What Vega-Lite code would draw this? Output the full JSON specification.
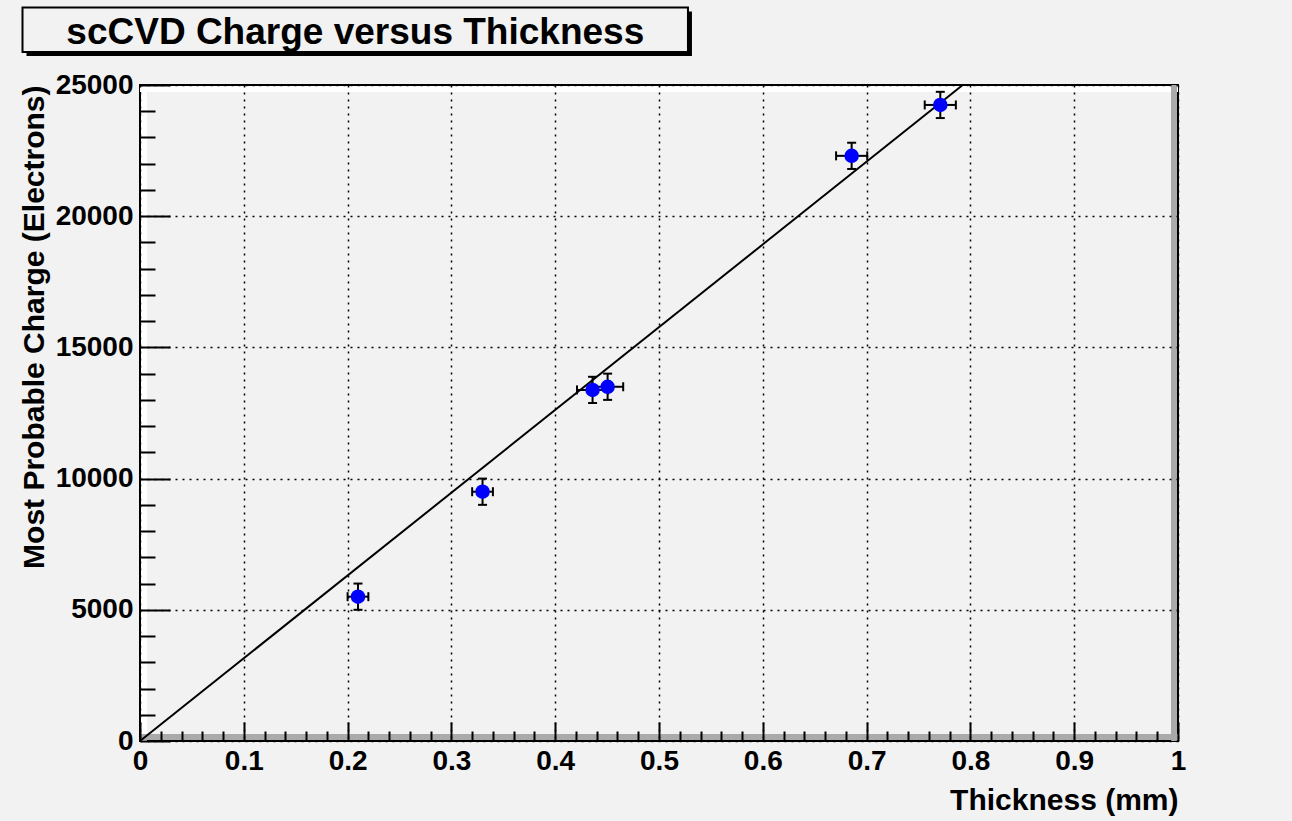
{
  "$schema": "https://vega.github.io/schema/vega-lite/v6.json",
  "width": 1038,
  "height": 656,
  "autosize": {"type": "none"},
  "padding": {"left": 140, "top": 85, "right": 114, "bottom": 80},
  "background": "#f2f2f2",
  "config": {
    "view": {"stroke": "#000000", "strokeWidth": 2, "fill": "#f2f2f2"},
    "font": "Liberation Sans",
    "axis": {
      "labelFont": "Liberation Sans",
      "titleFont": "Liberation Sans",
      "labelColor": "#000000",
      "titleColor": "#000000",
      "labelFontWeight": "bold",
      "titleFontWeight": "bold",
      "labelFontSize": 28,
      "titleFontSize": 30,
      "tickColor": "#000000",
      "tickWidth": 2,
      "domain": false,
      "labelFlush": false,
      "labelOverlap": false,
      "labelBound": false
    }
  },
  "datasets": {
    "charge": [
      {"t": 0.21, "q": 5500, "t_lo": 0.2, "t_hi": 0.22, "q_lo": 5000, "q_hi": 6000},
      {"t": 0.33, "q": 9500, "t_lo": 0.32, "t_hi": 0.34, "q_lo": 9000, "q_hi": 10000},
      {"t": 0.436, "q": 13380, "t_lo": 0.421, "t_hi": 0.451, "q_lo": 12880, "q_hi": 13880},
      {"t": 0.4505, "q": 13500, "t_lo": 0.4355, "t_hi": 0.4655, "q_lo": 13000, "q_hi": 14000},
      {"t": 0.6856, "q": 22300, "t_lo": 0.6706, "t_hi": 0.7006, "q_lo": 21800, "q_hi": 22800},
      {"t": 0.771, "q": 24240, "t_lo": 0.756, "t_hi": 0.786, "q_lo": 23740, "q_hi": 24740}
    ],
    "fit": [
      {"t": 0, "q": 0},
      {"t": 0.7926, "q": 25000}
    ],
    "one": [{}]
  },
  "resolve": {"axis": {"x": "independent", "y": "independent"}},
  "layer": [
    {
      "data": {"name": "one"},
      "mark": {"type": "rule", "stroke": "#ffffff", "strokeWidth": 6, "xOffset": 4},
      "encoding": {
        "x": {"datum": 0, "type": "quantitative", "scale": {"domain": [0, 1], "nice": false, "zero": false}, "axis": null},
        "y": {"datum": 0, "type": "quantitative", "scale": {"domain": [0, 25000], "nice": false}, "axis": null},
        "y2": {"datum": 25000}
      }
    },
    {
      "data": {"name": "one"},
      "mark": {"type": "rule", "stroke": "#ffffff", "strokeWidth": 6, "yOffset": 4},
      "encoding": {
        "x": {"datum": 0, "type": "quantitative", "axis": null},
        "x2": {"datum": 1},
        "y": {"datum": 25000, "type": "quantitative", "axis": null}
      }
    },
    {
      "data": {"name": "one"},
      "mark": {"type": "rule", "stroke": "#aaaaaa", "strokeWidth": 6, "xOffset": -4},
      "encoding": {
        "x": {"datum": 1, "type": "quantitative", "axis": null},
        "y": {"datum": 0, "type": "quantitative", "axis": null},
        "y2": {"datum": 25000}
      }
    },
    {
      "data": {"name": "one"},
      "mark": {"type": "rule", "stroke": "#aaaaaa", "strokeWidth": 6, "yOffset": -4},
      "encoding": {
        "x": {"datum": 0, "type": "quantitative", "axis": null},
        "x2": {"datum": 1},
        "y": {"datum": 0, "type": "quantitative", "axis": null}
      }
    },
    {
      "data": {"name": "fit"},
      "mark": {"type": "line", "color": "#000000", "strokeWidth": 2},
      "encoding": {
        "x": {
          "field": "t", "type": "quantitative",
          "axis": {
            "orient": "bottom",
            "values": [0, 0.1, 0.2, 0.3, 0.4, 0.5, 0.6, 0.7, 0.8, 0.9, 1],
            "format": "~g",
            "tickSize": -19,
            "labelPadding": 25,
            "grid": true,
            "gridColor": "#000000",
            "gridDash": [2, 5],
            "gridWidth": 1.5,
            "title": "Thickness (mm)",
            "titleAnchor": "end",
            "titlePadding": 10,
            "zindex": 1
          }
        },
        "y": {
          "field": "q", "type": "quantitative",
          "axis": {
            "orient": "left",
            "values": [0, 5000, 10000, 15000, 20000, 25000],
            "format": "d",
            "tickSize": -30,
            "labelPadding": 37,
            "grid": true,
            "gridColor": "#000000",
            "gridDash": [2, 5],
            "gridWidth": 1.5,
            "title": "Most Probable Charge (Electrons)",
            "titleAnchor": "end",
            "titlePadding": 6,
            "zindex": 1
          }
        }
      }
    },
    {
      "data": {"name": "charge"},
      "mark": {"type": "rule", "color": "#000000", "strokeWidth": 2},
      "encoding": {
        "x": {
          "field": "t", "type": "quantitative",
          "axis": {
            "orient": "bottom",
            "values": [0.02, 0.04, 0.06, 0.08, 0.12, 0.14, 0.16, 0.18, 0.22, 0.24, 0.26, 0.28, 0.32, 0.34, 0.36, 0.38, 0.42, 0.44, 0.46, 0.48, 0.52, 0.54, 0.56, 0.58, 0.62, 0.64, 0.66, 0.68, 0.72, 0.74, 0.76, 0.78, 0.82, 0.84, 0.86, 0.88, 0.92, 0.94, 0.96, 0.98],
            "tickSize": -10,
            "labels": false,
            "grid": false,
            "title": null,
            "zindex": 1
          }
        },
        "y": {
          "field": "q_lo", "type": "quantitative",
          "axis": {
            "orient": "left",
            "values": [1000, 2000, 3000, 4000, 6000, 7000, 8000, 9000, 11000, 12000, 13000, 14000, 16000, 17000, 18000, 19000, 21000, 22000, 23000, 24000],
            "tickSize": -15,
            "labels": false,
            "grid": false,
            "title": null,
            "zindex": 1
          }
        },
        "y2": {"field": "q_hi"}
      }
    },
    {
      "data": {"name": "charge"},
      "mark": {"type": "rule", "color": "#000000", "strokeWidth": 2},
      "encoding": {
        "x": {"field": "t_lo", "type": "quantitative", "axis": null},
        "x2": {"field": "t_hi"},
        "y": {"field": "q", "type": "quantitative", "axis": null}
      }
    },
    {
      "data": {"name": "charge"},
      "mark": {"type": "tick", "orient": "horizontal", "color": "#000000", "size": 9, "thickness": 2, "opacity": 1},
      "encoding": {
        "x": {"field": "t", "type": "quantitative", "axis": null},
        "y": {"field": "q_lo", "type": "quantitative", "axis": null}
      }
    },
    {
      "data": {"name": "charge"},
      "mark": {"type": "tick", "orient": "horizontal", "color": "#000000", "size": 9, "thickness": 2, "opacity": 1},
      "encoding": {
        "x": {"field": "t", "type": "quantitative", "axis": null},
        "y": {"field": "q_hi", "type": "quantitative", "axis": null}
      }
    },
    {
      "data": {"name": "charge"},
      "mark": {"type": "tick", "orient": "vertical", "color": "#000000", "size": 9, "thickness": 2, "opacity": 1},
      "encoding": {
        "x": {"field": "t_lo", "type": "quantitative", "axis": null},
        "y": {"field": "q", "type": "quantitative", "axis": null}
      }
    },
    {
      "data": {"name": "charge"},
      "mark": {"type": "tick", "orient": "vertical", "color": "#000000", "size": 9, "thickness": 2, "opacity": 1},
      "encoding": {
        "x": {"field": "t_hi", "type": "quantitative", "axis": null},
        "y": {"field": "q", "type": "quantitative", "axis": null}
      }
    },
    {
      "data": {"name": "charge"},
      "mark": {"type": "circle", "color": "#0000ff", "size": 210, "opacity": 1},
      "encoding": {
        "x": {"field": "t", "type": "quantitative", "axis": null},
        "y": {"field": "q", "type": "quantitative", "axis": null}
      }
    },
    {
      "data": {"name": "one"},
      "mark": {"type": "rect", "fill": "#000000", "xOffset": 4, "x2Offset": 4, "yOffset": 4, "y2Offset": 4},
      "encoding": {
        "x": {"datum": -0.1132, "type": "quantitative", "axis": null},
        "x2": {"datum": 0.5279},
        "y": {"datum": 27957, "type": "quantitative", "axis": null},
        "y2": {"datum": 26258}
      }
    },
    {
      "data": {"name": "one"},
      "mark": {"type": "rect", "fill": "#f2f2f2", "stroke": "#000000", "strokeWidth": 2},
      "encoding": {
        "x": {"datum": -0.1132, "type": "quantitative", "axis": null},
        "x2": {"datum": 0.5279},
        "y": {"datum": 27957, "type": "quantitative", "axis": null},
        "y2": {"datum": 26258}
      }
    },
    {
      "data": {"name": "one"},
      "mark": {"type": "text", "text": "scCVD Charge versus Thickness", "font": "Liberation Sans", "fontWeight": "bold", "fontSize": 37, "align": "center", "baseline": "middle", "color": "#000000"},
      "encoding": {
        "x": {"datum": 0.2074, "type": "quantitative", "axis": null},
        "y": {"datum": 26980, "type": "quantitative", "axis": null}
      }
    }
  ]
}
